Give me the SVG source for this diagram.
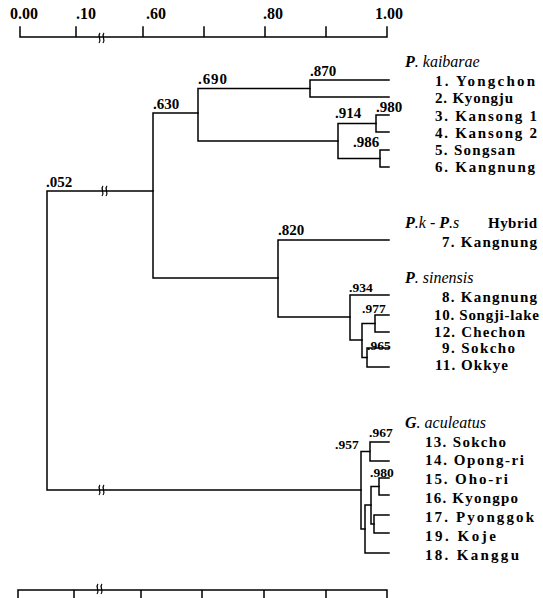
<svg xmlns="http://www.w3.org/2000/svg" xmlns:xlink="http://www.w3.org/1999/xlink" width="543" height="598" viewBox="0 0 543 598">
<style>
.ln{stroke:#000;stroke-width:1.5;fill:none;stroke-linecap:square}
.br{stroke:#000;stroke-width:1.2;fill:none}
.ax{font-family:"Liberation Serif","Times New Roman",serif;font-weight:bold;font-size:16px;fill:#000}
.nl{font-family:"Liberation Serif","Times New Roman",serif;font-weight:bold;font-size:15px;fill:#000}
.ns{font-family:"Liberation Serif","Times New Roman",serif;font-weight:bold;font-size:13.5px;fill:#000}
.lf{font-family:"Liberation Serif","Times New Roman",serif;font-weight:bold;font-size:15px;fill:#000}
.sp{font-family:"Liberation Serif","Times New Roman",serif;font-style:italic;font-size:16px;fill:#000}
</style>
<defs>
<path id="brk" class="br" d="M-2,-5 c-3,3 2,6 -1,10 M2,-5 c-3,3 2,6 -1,10"/>
</defs>

<g id="axis-top">
<path class="ln" d="M20,37 H387 M20,27 V37 M76,27 V37 M143,27 V37 M204,27 V37 M265,27 V37 M326,27 V37 M387,27 V37"/>
<use xlink:href="#brk" x="102" y="38"/>
<text class="ax" x="10" y="19">0.00</text>
<text class="ax" x="76" y="19">.10</text>
<text class="ax" x="146" y="19">.60</text>
<text class="ax" x="263" y="19">.80</text>
<text class="ax" x="375" y="19">1.00</text>
</g>

<g id="axis-bottom">
<path class="ln" d="M18,590 H387 M18,590 V598 M74,590 V598 M141,590 V598 M202,590 V598 M264,590 V598 M326,590 V598 M387,590 V598"/>
<use xlink:href="#brk" x="100" y="589"/>
</g>

<g id="connectors">
<path class="ln" d="M47,191 V490 M47,191 H153 M47,490 H361"/>
<use xlink:href="#brk" x="105" y="191"/>
<use xlink:href="#brk" x="102" y="490"/>
<path class="ln" d="M153,113 V278 M153,113 H198 M153,278 H278"/>
<path class="ln" d="M198,88.5 V141 M198,88.5 H310 M198,141 H338"/>
<path class="ln" d="M310,80 V97 M310,80 H389 M310,97 H389"/>
<path class="ln" d="M338,123.5 V158.5 M338,123.5 H376 M338,158.5 H380"/>
<path class="ln" d="M376,115 V132 M376,115 H389 M376,132 H389"/>
<path class="ln" d="M380,150 V167 M380,150 H389 M380,167 H389"/>
<path class="ln" d="M278,240 V317 M278,240 H389 M278,317 H350"/>
<path class="ln" d="M350,295 V340 M350,295 H389 M350,340 H362"/>
<path class="ln" d="M362,323.5 V357.5 M362,323.5 H375 M362,357.5 H367"/>
<path class="ln" d="M375,315 V332 M375,315 H389 M375,332 H389"/>
<path class="ln" d="M367,348 V367 M367,348 H389 M367,367 H389"/>
<path class="ln" d="M361,451.5 V529 M361,451.5 H370 M361,529 H365"/>
<path class="ln" d="M370,442 V461 M370,442 H389 M370,461 H389"/>
<path class="ln" d="M365,505 V553 M365,505 H371 M365,553 H389"/>
<path class="ln" d="M371,486.5 V524 M371,486.5 H379 M371,524 H374"/>
<path class="ln" d="M379,478 V495 M379,478 H389 M379,495 H389"/>
<path class="ln" d="M374,515 V533 M374,515 H389 M374,533 H389"/>
</g>

<g id="node-052"><text class="nl" x="46" y="187">.052</text></g>
<g id="node-630"><text class="nl" x="153" y="109">.630</text></g>
<g id="node-690"><text class="nl" x="198" y="84" textLength="29" lengthAdjust="spacing">.690</text></g>
<g id="node-870"><text class="nl" x="310" y="76">.870</text></g>
<g id="node-914"><text class="nl" x="335" y="118">.914</text></g>
<g id="node-980a"><text class="nl" x="376" y="112">.980</text></g>
<g id="node-986"><text class="nl" x="353" y="147">.986</text></g>
<g id="node-820"><text class="nl" x="278" y="235">.820</text></g>
<g id="node-934"><text class="ns" x="349" y="292">.934</text></g>
<g id="node-977"><text class="ns" x="362" y="313">.977</text></g>
<g id="node-965"><text class="ns" x="367" y="350">.965</text></g>
<g id="node-957"><text class="ns" x="335" y="449">.957</text></g>
<g id="node-967"><text class="ns" x="369" y="437">.967</text></g>
<g id="node-980b"><text class="ns" x="370" y="477">.980</text></g>

<g id="group-kaibarae">
<text class="sp" x="405" y="67"><tspan font-weight="bold">P</tspan>.  kaibarae</text>
<text class="lf" x="435" y="86" textLength="100" lengthAdjust="spacing">1. Yongchon</text>
<text class="lf" x="435" y="103" textLength="78" lengthAdjust="spacing">2. Kyongju</text>
<text class="lf" x="435" y="121" textLength="102" lengthAdjust="spacing">3. Kansong 1</text>
<text class="lf" x="435" y="138" textLength="102" lengthAdjust="spacing">4. Kansong 2</text>
<text class="lf" x="435" y="155" textLength="80" lengthAdjust="spacing">5. Songsan</text>
<text class="lf" x="435" y="172" textLength="100" lengthAdjust="spacing">6. Kangnung</text>
</g>

<g id="group-hybrid">
<text class="sp" x="405" y="228"><tspan font-weight="bold">P</tspan>.k - <tspan font-weight="bold">P</tspan>.s</text>
<text class="lf" x="488" y="228" textLength="49" lengthAdjust="spacing">Hybrid</text>
<text class="lf" x="442" y="247" textLength="95" lengthAdjust="spacing">7. Kangnung</text>
</g>

<g id="group-sinensis">
<text class="sp" x="405" y="283"><tspan font-weight="bold">P</tspan>.  sinensis</text>
<text class="lf" x="442" y="302" textLength="95" lengthAdjust="spacing">8. Kangnung</text>
<text class="lf" x="434" y="320" textLength="105" lengthAdjust="spacing">10. Songji-lake</text>
<text class="lf" x="434" y="337" textLength="91" lengthAdjust="spacing">12. Chechon</text>
<text class="lf" x="442" y="353" textLength="73" lengthAdjust="spacing">9. Sokcho</text>
<text class="lf" x="435" y="370" textLength="73" lengthAdjust="spacing">11. Okkye</text>
</g>

<g id="group-aculeatus">
<text class="sp" x="405" y="428"><tspan font-weight="bold">G</tspan>.  aculeatus</text>
<text class="lf" x="425" y="447" textLength="81" lengthAdjust="spacing">13. Sokcho</text>
<text class="lf" x="425" y="465" textLength="99" lengthAdjust="spacing">14. Opong-ri</text>
<text class="lf" x="425" y="484" textLength="83" lengthAdjust="spacing">15. Oho-ri</text>
<text class="lf" x="425" y="503" textLength="93" lengthAdjust="spacing">16. Kyongpo</text>
<text class="lf" x="425" y="522" textLength="109" lengthAdjust="spacing">17. Pyonggok</text>
<text class="lf" x="425" y="541" textLength="71" lengthAdjust="spacing">19. Koje</text>
<text class="lf" x="425" y="560" textLength="94" lengthAdjust="spacing">18. Kanggu</text>
</g>
</svg>
